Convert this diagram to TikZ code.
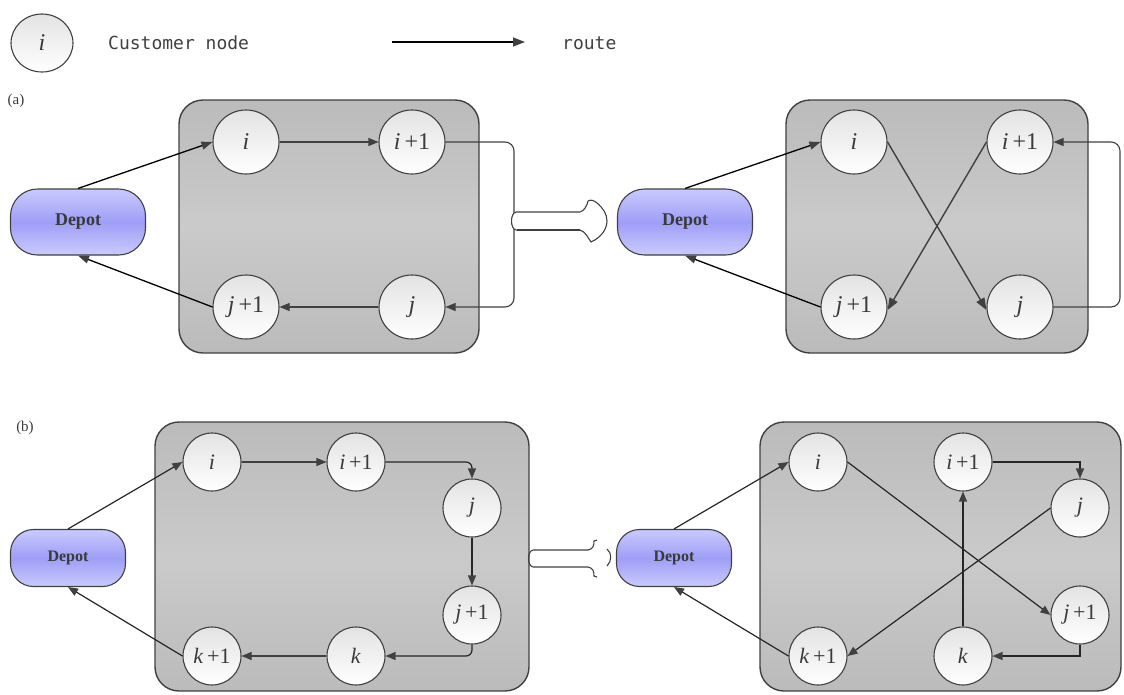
\documentclass[tikz,border=0pt]{standalone}
\usepackage{fontspec}
\setmainfont{Liberation Serif}
\newfontfamily\monof{DejaVu Sans Mono}
\usetikzlibrary{arrows.meta,shapes.geometric}
\definecolor{dgray}{HTML}{404040}
\definecolor{dtext}{HTML}{3A3A3A}
\definecolor{boxa}{HTML}{BBBBBB}
\definecolor{boxb}{HTML}{CACACA}
\definecolor{depa}{HTML}{CACAFF}
\definecolor{depb}{HTML}{9E9EF6}
\tikzset{
  cust/.style={ellipse, draw=dgray, line width=1.1pt, top color=gray!22, bottom color=white,
    minimum width=66pt, minimum height=64pt, inner sep=0pt, text=dtext,
    font=\fontsize{24}{24}\selectfont},
  custb/.style={cust, minimum width=58pt, minimum height=58pt, font=\fontsize{22}{22}\selectfont},
  depot/.style={rectangle, rounded corners=27pt, draw=dgray, line width=1.1pt,
    top color=depa, bottom color=depa, middle color=depb,
    minimum width=135pt, minimum height=66pt, inner sep=0pt, text=dtext,
    font=\bfseries\fontsize{18}{18}\selectfont},
  depotb/.style={depot, rounded corners=23pt, minimum width=115pt, minimum height=57pt,
    font=\bfseries\fontsize{16}{16}\selectfont},
  regbox/.style={draw=dgray, line width=1.4pt, rounded corners=24pt,
    top color=boxa, bottom color=boxa, middle color=boxb},
  route/.style={draw=dgray, line width=1.1pt, -{Triangle[length=10pt,width=8pt]}},
  xroute/.style={draw=dgray, line width=1.4pt, -{Triangle[length=12pt,width=9pt]}},
  droute/.style={draw=black, line width=1.3pt, -{Triangle[length=11pt,width=8pt,color=dgray]}},
  broute/.style={draw=black!85, line width=1.2pt, -{Triangle[length=10pt,width=8pt,color=dgray]}},
  lab/.style={text=dtext, font=\fontsize{15}{15}\selectfont},
  legtext/.style={text=dgray, font=\monof\fontsize{18}{18}\selectfont, anchor=west, inner sep=0pt},
  hollow/.style={draw=dgray, line width=1.1pt, fill=white}
}
\begin{document}
\begin{tikzpicture}[x=1pt,y=-1pt]
\path[use as bounding box] (0,0) rectangle (1124,694);

% legend
\node[cust, minimum width=62pt, minimum height=58pt] (Li) at (42,43) {\textit{i}};
\node[legtext] (Lcn) at (108,43) {Customer node};
\coordinate (La1) at (392,42);
\coordinate (La2) at (525,42);
\draw[draw=black, line width=1.5pt, -{Triangle[length=12pt,width=9pt,color=dgray]}] (La1) -- (La2);
\node[legtext] (Lrt) at (562,43) {route};

% (a)
\node[lab] (La) at (16,101) {(a)};
\draw[regbox] (179,100) rectangle (479,353);
\draw[regbox] (786,100) rectangle (1088,353);

\node[depot] (ADep) at (78,222) {Depot};
\node[cust] (Ai)  at (246,142) {\textit{i}};
\node[cust] (Ai1) at (412,142) {\textit{i}\,+1};
\node[cust] (Aj1) at (246,307) {\textit{j}\,+1};
\node[cust] (Aj)  at (412,307) {\textit{j}};
\coordinate (Abr) at (514,0);

\draw[droute] (ADep.north) -- (Ai.west);
\draw[route] (Ai) -- (Ai1);
\draw[route, rounded corners=9pt] (Ai1) -- (Ai1 -| Abr) -- (Aj -| Abr) -- (Aj);
\draw[route] (Aj) -- (Aj1);
\draw[droute] (Aj1.west) -- (ADep.south);

% hollow transform arrow
\path[hollow] (516,212) -- (580,212) .. controls (584,211) and (587,206) .. (588,201)
  .. controls (591,199) and (595,201) .. (597,203)
  .. controls (603,208) and (607,214) .. (607,221)
  .. controls (607,230) and (600,238) .. (591,242)
  .. controls (588,238) and (586,232) .. (580,230) -- (516,230)
  .. controls (510,229) and (510,213) .. (516,212) -- cycle;
\draw[dgray, line width=2.4pt] (517,230) -- (580,230);

\node[depot] (BDep) at (685,222) {Depot};
\node[cust] (Bi)  at (854,142) {\textit{i}};
\node[cust] (Bi1) at (1020,142) {\textit{i}\,+1};
\node[cust] (Bj1) at (854,307) {\textit{j}\,+1};
\node[cust] (Bj)  at (1020,307) {\textit{j}};
\coordinate (Bbr) at (1120,0);

\draw[droute] (BDep.north) -- (Bi.west);
\draw[xroute] (Bi.east) -- ([yshift=-3pt]Bj.west);
\draw[xroute] (Bi1.west) -- ([yshift=-3pt]Bj1.east);
\draw[route, rounded corners=9pt] (Bj) -- (Bj -| Bbr) -- (Bi1 -| Bbr) -- (Bi1);
\draw[droute] (Bj1.west) -- (BDep.south);

% (b)
\node[lab] (Lb) at (25,428) {(b)};
\draw[regbox] (155,422) rectangle (529,691);
\draw[regbox] (760,422) rectangle (1121,691);

\node[depotb] (CDep) at (68,558) {Depot};
\node[custb] (Ci)  at (212,462) {\textit{i}};
\node[custb] (Ci1) at (356,462) {\textit{i}\,+1};
\node[custb] (Cj)  at (472,508) {\textit{j}};
\node[custb] (Cj1) at (472,615) {\textit{j}\,+1};
\node[custb] (Ck)  at (356,656) {\textit{k}};
\node[custb] (Ck1) at (212,656) {\textit{k}\,+1};

\draw[broute] (CDep.north) -- (Ci.west);
\draw[route] (Ci) -- (Ci1);
\draw[broute, rounded corners=6pt] (Ci1) -- (Ci1 -| Cj) -- (Cj);
\draw[broute] (Cj) -- (Cj1);
\draw[broute, rounded corners=6pt] (Cj1) -- (Cj1 |- Ck) -- (Ck);
\draw[route] (Ck) -- (Ck1);
\draw[broute] (Ck1.west) -- (CDep.south);

% broken transform arrow
\draw[dgray, line width=1.1pt] (588,550) -- (533,550)
  .. controls (527,551) and (527,566) .. (533,567) -- (588,567);
\draw[dgray, line width=1.1pt] (588,550) .. controls (593,549) and (594,546) .. (594,541) -- (597,540);
\draw[dgray, line width=1.1pt] (588,567) .. controls (593,568) and (594,571) .. (594,576) -- (597,577);
\draw[dgray, line width=1.1pt] (607,549) .. controls (612,553) and (612,561) .. (607,566);

\node[depotb] (DDep) at (674,558) {Depot};
\node[custb] (Di)  at (818,462) {\textit{i}};
\node[custb] (Di1) at (963,462) {\textit{i}\,+1};
\node[custb] (Dj)  at (1080,508) {\textit{j}};
\node[custb] (Dj1) at (1080,615) {\textit{j}\,+1};
\node[custb] (Dk)  at (963,656) {\textit{k}};
\node[custb] (Dk1) at (818,656) {\textit{k}\,+1};

\draw[broute] (DDep.north) -- (Di.west);
\draw[broute] (Di.east) -- (Dj1.west);
\draw[broute] (Dj.west) -- (Dk1.east);
\draw[broute] (Dk) -- (Di1);
\draw[broute] (Di1) -- (Di1 -| Dj) -- (Dj);
\draw[broute] (Dj1) -- (Dj1 |- Dk) -- (Dk);
\draw[broute] (Dk1.west) -- (DDep.south);
\end{tikzpicture}
\end{document}
